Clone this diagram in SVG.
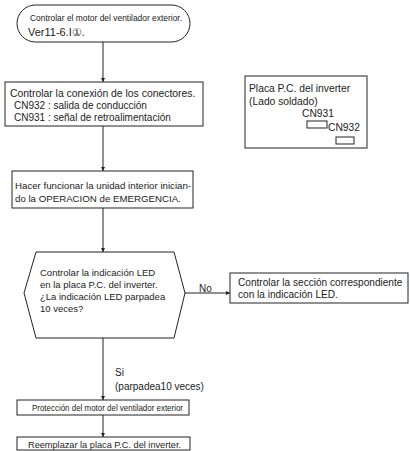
<svg xmlns="http://www.w3.org/2000/svg" width="410" height="451" viewBox="0 0 410 451">
  <defs>
    <marker id="arrow" viewBox="0 0 6 6" refX="6" refY="3" markerWidth="4.5" markerHeight="4.5" orient="auto" markerUnits="userSpaceOnUse">
      <path d="M0,0 L6,3 L0,6 Z" fill="#222"/>
    </marker>
  </defs>
  <style>
    .box { fill: #fff; stroke: #222; stroke-width: 1; }
    .link { fill: none; stroke: #222; stroke-width: 1; marker-end: url(#arrow); }
    text { font-family: "Liberation Sans", Arial, sans-serif; font-size: 10px; fill: #222; }
    .narrow { font-size: 9px; }
    .small { font-size: 8.4px; }
  </style>

  <rect width="410" height="451" fill="#fff"/>

  <!-- connectors -->
  <g id="connectors">
    <line class="link" x1="103" y1="42" x2="103" y2="82"/>
    <line class="link" x1="103" y1="126" x2="103" y2="171"/>
    <line class="link" x1="103" y1="208" x2="103" y2="252"/>
    <line class="link" x1="185" y1="293" x2="230" y2="293"/>
    <line class="link" x1="103" y1="338" x2="103" y2="400"/>
    <line class="link" x1="103" y1="415" x2="103" y2="437"/>
    <text x="199" y="292">No</text>
    <text x="115" y="376">Si</text>
    <text x="115" y="390">(parpadea10 veces)</text>
  </g>

  <!-- start: check outdoor fan motor -->
  <g id="start">
    <rect class="box" x="17" y="5" width="173" height="37" rx="18.5" ry="18.5"/>
    <text class="narrow" x="30" y="21" textLength="152" lengthAdjust="spacingAndGlyphs">Controlar el motor del ventilador exterior.</text>
    <text x="28" y="36" style="font-size:11px">Ver11-6.I①.</text>
  </g>

  <!-- connector check -->
  <g id="check-connectors">
    <rect class="box" x="5" y="82" width="198" height="44"/>
    <text x="10" y="97" style="font-size:10.4px">Controlar la conexión de los conectores.</text>
    <text x="14" y="109">CN932 : salida de conducción</text>
    <text x="14" y="121">CN931 : señal de retroalimentación</text>
  </g>

  <!-- emergency operation -->
  <g id="emergency-run">
    <rect class="box" x="12" y="171" width="181" height="37"/>
    <text x="15" y="189" style="font-size:9.7px">Hacer funcionar la unidad interior inician-</text>
    <text x="15" y="202" style="font-size:9.7px">do la OPERACION de EMERGENCIA.</text>
  </g>

  <!-- decision: LED blinks 10 times? -->
  <g id="led-decision" style="font-size:9.5px">
    <polygon class="box" points="36,252 174,252 185,293 174,338 36,338 24,293"/>
    <text x="40" y="276" style="font-size:9.5px">Controlar la indicación LED</text>
    <text x="40" y="288" style="font-size:9.5px">en la placa P.C. del inverter.</text>
    <text x="40" y="300" style="font-size:9.5px">¿La indicación LED parpadea</text>
    <text x="40" y="312" style="font-size:9.5px">10 veces?</text>
  </g>

  <!-- no branch -->
  <g id="check-led-section">
    <rect class="box" x="230" y="273" width="178" height="30"/>
    <text x="238" y="286" style="font-size:10.1px">Controlar la sección correspondiente</text>
    <text x="238" y="298" style="font-size:10.1px">con la indicación LED.</text>
  </g>

  <!-- fan motor protection -->
  <g id="fan-protection">
    <rect class="box" x="17" y="400" width="172" height="15"/>
    <text class="small" x="32" y="411" textLength="151" lengthAdjust="spacingAndGlyphs">Protección del motor del ventilador exterior</text>
  </g>

  <!-- replace board -->
  <g id="replace-board">
    <rect class="box" x="17" y="437" width="173" height="13"/>
    <text x="28" y="448" style="font-size:9.2px">Reemplazar la placa P.C. del inverter.</text>
  </g>

  <!-- inverter board sketch (solder side) -->
  <g id="inverter-board">
    <rect class="box" x="245" y="76" width="122" height="72"/>
    <text x="249" y="92" style="font-size:10.3px">Placa P.C. del inverter</text>
    <text x="249" y="105" style="font-size:10.3px">(Lado soldado)</text>
    <text x="302" y="117" style="font-size:10.3px">CN931</text>
    <rect class="box" x="307" y="121" width="20" height="7"/>
    <text x="328" y="131" style="font-size:10.3px">CN932</text>
    <rect class="box" x="336" y="137" width="18" height="7"/>
  </g>
</svg>
